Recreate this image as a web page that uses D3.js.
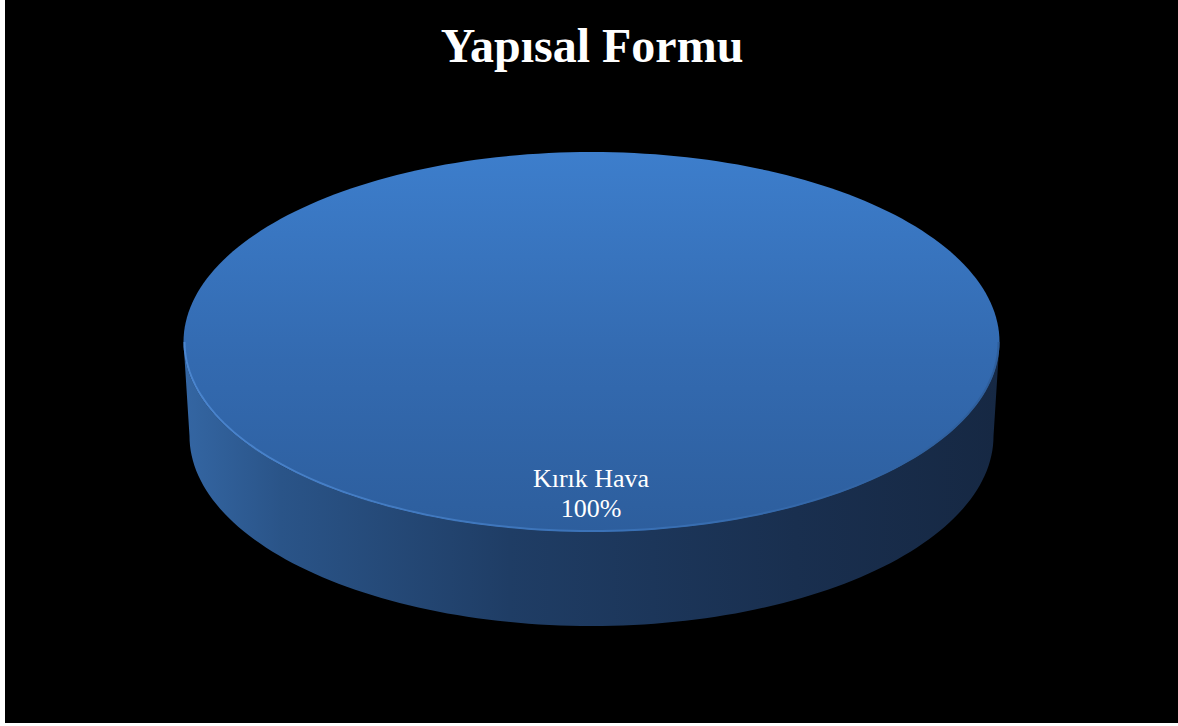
<!DOCTYPE html>
<html><head><meta charset="utf-8">
<script src="https://cdn.jsdelivr.net/npm/d3@7/dist/d3.min.js"></script>
<style>html,body{margin:0;padding:0;background:#fff;overflow:hidden}</style>
</head><body>
<svg id="chart" width="1178" height="726"></svg>
<script>
const title = "Yapısal Formu";
const categories = ["Kırık Hava"];
const values = [100];

const W = 1178, H = 726;
const svg = d3.select("#chart");
svg.append("rect").attr("x", 5).attr("y", 0).attr("width", W - 5).attr("height", 723).attr("fill", "#000");

const defs = svg.append("defs");
const topG = defs.append("linearGradient").attr("id", "topG").attr("x1", 0).attr("y1", 0).attr("x2", 0).attr("y2", 1);
topG.append("stop").attr("offset", "0%").attr("stop-color", "#3d7ecc");
topG.append("stop").attr("offset", "55%").attr("stop-color", "#336ab0");
topG.append("stop").attr("offset", "100%").attr("stop-color", "#2d5e9d");
const sideG = defs.append("linearGradient").attr("id", "sideG").attr("x1", 0).attr("y1", 0).attr("x2", 1).attr("y2", 0);
sideG.append("stop").attr("offset", "0%").attr("stop-color", "#3466a3");
sideG.append("stop").attr("offset", "12%").attr("stop-color", "#2a5488");
sideG.append("stop").attr("offset", "40%").attr("stop-color", "#1f3d65");
sideG.append("stop").attr("offset", "75%").attr("stop-color", "#192f4f");
sideG.append("stop").attr("offset", "100%").attr("stop-color", "#162843");
const rimG = defs.append("linearGradient").attr("id", "rimG").attr("x1", 0).attr("y1", 0).attr("x2", 1).attr("y2", 0);
rimG.append("stop").attr("offset", "0%").attr("stop-color", "#4f8ad4");
rimG.append("stop").attr("offset", "55%").attr("stop-color", "#3c74ba");
rimG.append("stop").attr("offset", "100%").attr("stop-color", "#2d5c98");

const cx = 591.5, cy = 342, rx = 408, ry = 190, depth = 94;
const rxB = 402;

const pie = d3.pie().sort(null).value(d => d)(values);
const pt = (a, r1, r2, yoff) => [cx + r1 * Math.sin(a), cy + yoff - r2 * Math.cos(a)];

function sidePath(a0, a1) {
  const s = Math.max(a0, Math.PI / 2), e = Math.min(a1, 3 * Math.PI / 2);
  if (e <= s) return null;
  const n = 120, top = [], bot = [];
  for (let i = 0; i <= n; i++) {
    const a = s + (e - s) * i / n;
    top.push(pt(a, rx, ry, 0));
    bot.push(pt(a, rxB, ry, depth));
  }
  return d3.line()(top.concat(bot.reverse())) + "Z";
}
function topPath(a0, a1) {
  const n = 240, pts = [];
  for (let i = 0; i <= n; i++) pts.push(pt(a0 + (a1 - a0) * i / n, rx, ry, 0));
  const full = (a1 - a0) >= 2 * Math.PI - 1e-6;
  if (!full) pts.push([cx, cy]);
  return d3.line()(pts) + "Z";
}

pie.forEach(p => {
  const sp = sidePath(p.startAngle, p.endAngle);
  if (sp) svg.append("path").attr("d", sp).attr("fill", "url(#sideG)");
});
pie.forEach(p => {
  svg.append("path").attr("d", topPath(p.startAngle, p.endAngle)).attr("fill", "url(#topG)");
});
pie.forEach(p => {
  const s = Math.max(p.startAngle, Math.PI * 0.5), e = Math.min(p.endAngle, Math.PI * 1.5);
  const pts = d3.range(0, 121).map(i => pt(s + (e - s) * i / 120, rx - 1, ry - 1, 0));
  svg.append("path").attr("d", d3.line()(pts)).attr("fill", "none")
    .attr("stroke", "url(#rimG)").attr("stroke-width", 2).attr("opacity", 0.85);
});

svg.append("text").attr("x", 592).attr("y", 62).attr("text-anchor", "middle")
  .attr("font-family", "Liberation Serif, Times New Roman, serif").attr("font-weight", "bold")
  .attr("font-size", 48).attr("fill", "#fff").text(title);

pie.forEach((p, i) => {
  const g = svg.append("text").attr("text-anchor", "middle")
    .attr("font-family", "Liberation Serif, Times New Roman, serif")
    .attr("font-size", 26).attr("fill", "#fff");
  g.append("tspan").attr("x", 591).attr("y", 487).text(categories[i]);
  g.append("tspan").attr("x", 591).attr("y", 517).text(Math.round(values[i] / d3.sum(values) * 100) + "%");
});
</script>
</body></html>
